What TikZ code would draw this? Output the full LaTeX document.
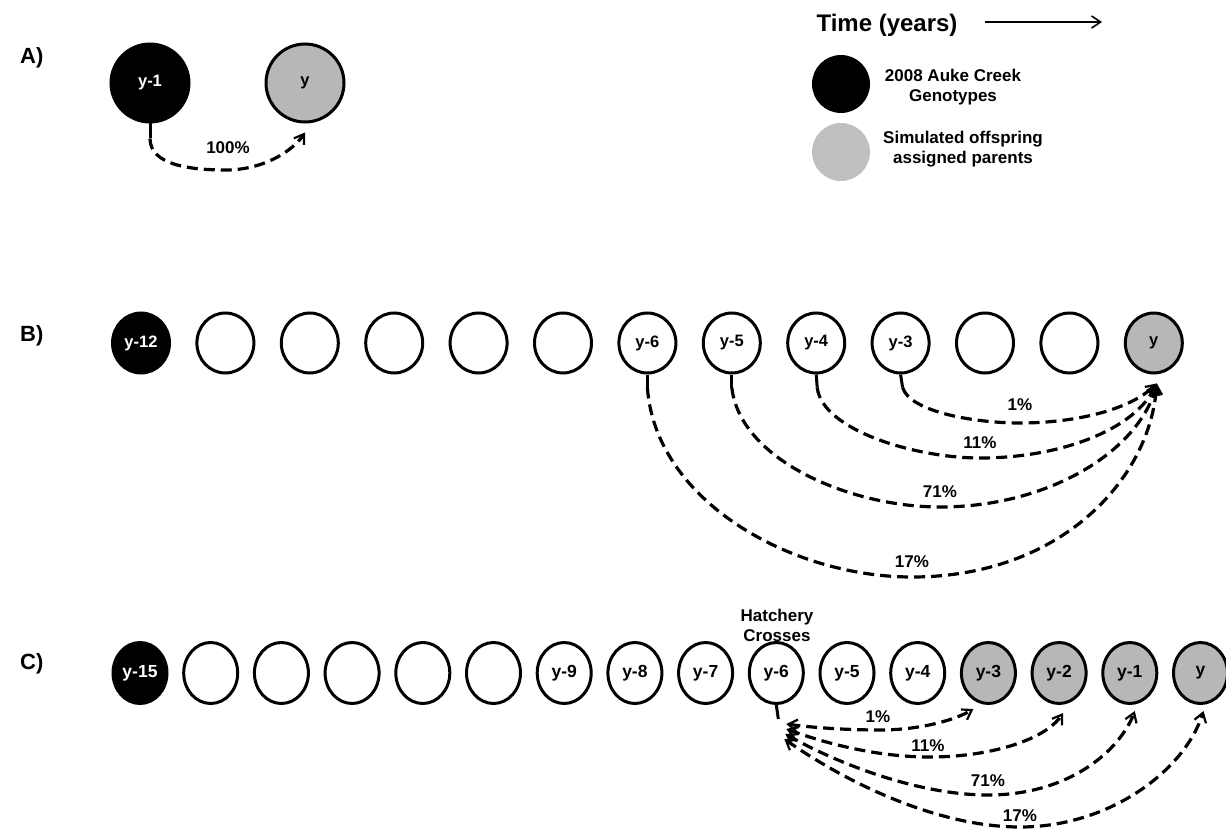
\documentclass[tikz,border=0pt]{standalone}
\usepackage{fontspec}
\setmainfont{Liberation Sans}
\usetikzlibrary{shapes.geometric,arrows.meta}
\definecolor{simgray}{RGB}{183,183,183}
\definecolor{leggray}{RGB}{192,192,192}
\begin{document}
\begin{tikzpicture}[x=1pt,y=-1pt,
  yr/.style={ellipse,draw,line width=3pt,inner sep=0pt,fill=white},
  anode/.style={yr,minimum width=78pt,minimum height=78pt,font=\bfseries\fontsize{16.5}{18}\selectfont},
  bnode/.style={yr,minimum width=57pt,minimum height=60pt,font=\bfseries\fontsize{16.5}{18}\selectfont},
  cnode/.style={yr,minimum width=54pt,minimum height=61pt,font=\bfseries\fontsize{17.5}{19}\selectfont},
  blk/.style={fill=black,text=white},
  gry/.style={fill=simgray},
  stem/.style={line width=3pt},
  flow/.style={line width=3.2pt,dash pattern=on 11pt off 6pt},
  tip/.style={-{Straight Barb[length=9pt,width=12pt,line width=2.2pt]}},
  tips/.style={{Straight Barb[length=9pt,width=12pt,line width=2.2pt]}-{Straight Barb[length=9pt,width=12pt,line width=2.2pt]}},
  pct/.style={font=\bfseries\fontsize{17}{18}\selectfont,inner sep=0pt},
  panel/.style={font=\bfseries\fontsize{22}{24}\selectfont,anchor=west,inner sep=0pt},
  legtxt/.style={font=\bfseries\fontsize{17}{20}\selectfont,align=center,inner sep=0pt},
]
\useasboundingbox (0,0) rectangle (1226,832);

% panel labels
\node[panel] (pa) at (20,58) {A)};
\node[panel] (pb) at (20,336) {B)};
\node[panel] (pc) at (20,664) {C)};

% legend
\node[font=\bfseries\fontsize{24}{28}\selectfont,inner sep=0pt] (time) at (887,25) {Time (years)};
\coordinate (t0) at (985,22);
\coordinate (t1) at (1102,22);
\draw[line width=2pt,-{Straight Barb[length=9pt,width=12pt,line width=1.6pt]}] (t0) -- (t1);
\node[circle,fill=black,minimum size=58pt,inner sep=0pt] (lg1) at (841,84) {};
\node[circle,fill=leggray,minimum size=58pt,inner sep=0pt] (lg2) at (841,152) {};
\node[legtxt] (lt1) at (953,87) {2008 Auke Creek\\Genotypes};
\node[legtxt] (lt2) at (963,149) {Simulated offspring\\assigned parents};

% panel A
\node[anode,blk] (a1) at (150,83) {y-1};
\node[anode,gry] (a2) at (305,83) {y};
\draw[stem] (a1.south) -- ++(0,15) coordinate (a1s);
\coordinate (a2e) at ([shift={(0,9)}]a2.south);
\draw[flow,tip] (a1s) .. controls (150,165) and (190,170) .. (226,170) .. controls (262,170) and (292,152) .. (a2e);
\node[pct] (pA) at (228,148) {100\%};

% panel B
\node[bnode,blk] (b0) at (141,343) {y-12};
\node[bnode] (b1) at (225.4,343) {};
\node[bnode] (b2) at (309.8,343) {};
\node[bnode] (b3) at (394.2,343) {};
\node[bnode] (b4) at (478.6,343) {};
\node[bnode] (b5) at (563,343) {};
\node[bnode] (b6) at (647.4,343) {y-6};
\node[bnode] (b7) at (731.8,343) {y-5};
\node[bnode] (b8) at (816.2,343) {y-4};
\node[bnode] (b9) at (900.6,343) {y-3};
\node[bnode] (b10) at (985,343) {};
\node[bnode] (b11) at (1069.4,343) {};
\node[bnode,gry] (b12) at (1153.8,343) {y};

\draw[stem] (b9.south) -- ++(2,13) coordinate (b9s);
\draw[stem] (b8.south) -- ++(1,13) coordinate (b8s);
\draw[stem] (b7.south) -- ++(0,13) coordinate (b7s);
\draw[stem] (b6.south) -- ++(0,13) coordinate (b6s);
\coordinate (bE) at ([shift={(3,9)}]b12.south);
\draw[flow,tip] (b9s) .. controls (910,412) and (975,423) .. (1020,423) .. controls (1075,423) and (1130,410) .. (bE);
\draw[flow,tip] (b8s) .. controls (822,430) and (915,458) .. (980,458) .. controls (1060,458) and (1135,430) .. (bE);
\draw[flow,tip] (b7s) .. controls (740,460) and (850,507) .. (940,507) .. controls (1050,507) and (1140,450) .. (bE);
\draw[flow,tip] (b6s) .. controls (655,500) and (790,577) .. (912,577) .. controls (1060,577) and (1150,480) .. (bE);
\node[pct] (pb1) at (1020,405) {1\%};
\node[pct] (pb2) at (980,443) {11\%};
\node[pct] (pb3) at (940,492) {71\%};
\node[pct] (pb4) at (912,562) {17\%};

% panel C
\node[cnode,blk] (c0) at (140,673) {y-15};
\node[cnode] (c1) at (210.7,673) {};
\node[cnode] (c2) at (281.4,673) {};
\node[cnode] (c3) at (352.1,673) {};
\node[cnode] (c4) at (422.8,673) {};
\node[cnode] (c5) at (493.5,673) {};
\node[cnode] (c6) at (564.2,673) {y-9};
\node[cnode] (c7) at (634.9,673) {y-8};
\node[cnode] (c8) at (705.6,673) {y-7};
\node[cnode] (c9) at (776.3,673) {y-6};
\node[cnode] (c10) at (847,673) {y-5};
\node[cnode] (c11) at (917.7,673) {y-4};
\node[cnode,gry] (c12) at (988.4,673) {y-3};
\node[cnode,gry] (c13) at (1059.1,673) {y-2};
\node[cnode,gry] (c14) at (1129.8,673) {y-1};
\node[cnode,gry] (c15) at (1200.5,673) {y};
\node[legtxt] (hc) at (777,625) {Hatchery\\Crosses};

\draw[stem] (c9.south) -- ++(2,14) coordinate (c9s);
\coordinate (cs1) at ([shift={(8,5)}]c9s);
\coordinate (cs2) at ([shift={(8,10)}]c9s);
\coordinate (cs3) at ([shift={(7,15)}]c9s);
\coordinate (cs4) at ([shift={(6,20)}]c9s);
\coordinate (ce1) at ([shift={(-15,4)}]c12.south);
\coordinate (ce2) at ([shift={(4,8)}]c13.south);
\coordinate (ce3) at ([shift={(5,6)}]c14.south);
\coordinate (ce4) at ([shift={(3,6)}]c15.south);
\draw[flow,tips] (cs1) .. controls (815,728) and (850,730) .. (880,730) .. controls (920,730) and (955,720) .. (ce1);
\draw[flow,tips] (cs2) .. controls (830,745) and (880,757) .. (930,757) .. controls (990,757) and (1045,740) .. (ce2);
\draw[flow,tips] (cs3) .. controls (840,765) and (920,795) .. (988,795) .. controls (1070,795) and (1120,750) .. (ce3);
\draw[flow,tips] (cs4) .. controls (850,785) and (940,827) .. (1020,827) .. controls (1110,827) and (1185,770) .. (ce4);
\node[pct] (pc1) at (878,717) {1\%};
\node[pct] (pc2) at (928,746) {11\%};
\node[pct] (pc3) at (988,781) {71\%};
\node[pct] (pc4) at (1020,816) {17\%};
\end{tikzpicture}
\end{document}
